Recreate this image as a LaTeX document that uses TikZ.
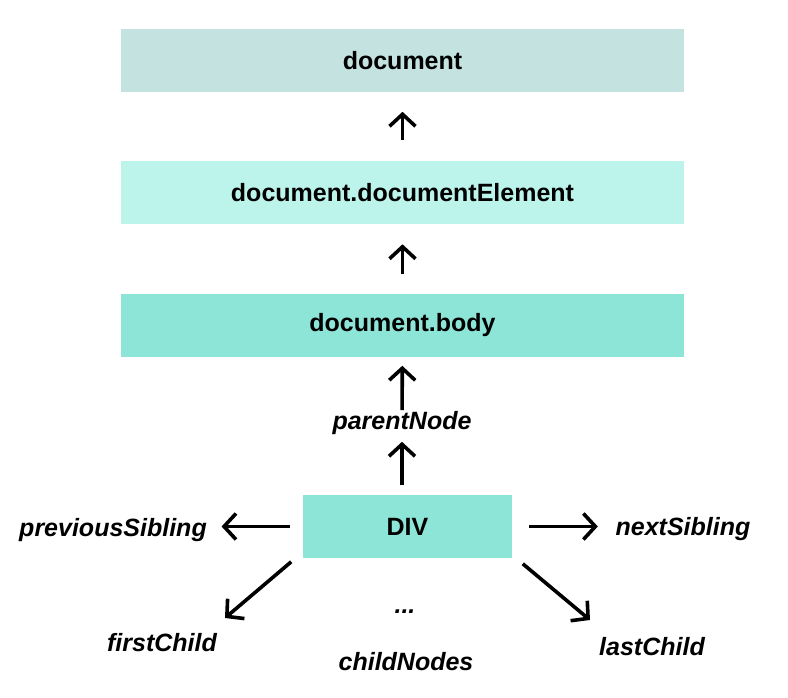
\documentclass[tikz,border=0pt]{standalone}
\usepackage{fontspec}
\setmainfont{Liberation Sans}
\usetikzlibrary{arrows.meta}
\definecolor{docgray}{HTML}{C4E3E0}
\definecolor{elemcyan}{HTML}{BCF4EC}
\definecolor{bodyteal}{HTML}{8DE5D8}
\begin{document}
\begin{tikzpicture}[x=1pt,y=-1pt,>={Straight Barb[length=12pt,width=26pt]}, line width=3.6pt,
		box/.style={minimum width=563pt, minimum height=63pt, inner sep=0pt, font=\fontsize{25}{30}\selectfont\bfseries},
		lbl/.style={inner sep=0pt, text height=0.75em, text depth=0.25em, font=\fontsize{25}{30}\selectfont\bfseries\itshape}]
				\useasboundingbox (0,0) rectangle (788,698);
				% chain of parents
				\node[box,fill=docgray] (doc) at (402.5,60.5) {document};
				\node[box,fill=elemcyan] (docElem) at (402.5,193) {document.documentElement};
				\node[box,fill=bodyteal] (body) at (402.5,325.5) {document.body};
				\node[box,fill=bodyteal,minimum width=209pt] (div) at (407.5,526.5) {DIV};
				% labels
				\node[lbl] (parent) at (402,427) {parentNode};
				\node[lbl] (prev) at (113,534) {previousSibling};
				\node[lbl] (next) at (683,533) {nextSibling};
				\node[lbl] (first) at (162,649) {firstChild};
				\node[lbl] (last) at (652,653) {lastChild};
				\node[lbl] (kids) at (406,668) {childNodes};
				\node[lbl] (dots) at (405,611) {...};
				\coordinate (firstTip) at (225,618);
				\coordinate (lastTip) at (590,620);
				% arrows
				\draw[->,shorten <=20pt,shorten >=18pt] (docElem) -- (doc);
				\draw[->,shorten <=18pt,shorten >=18pt] (body) -- (docElem);
				\draw[->,shorten <=10pt,shorten >=7pt] (parent) -- (body);
				\draw[->,shorten <=8pt,shorten >=8pt] (div.north -| parent) -- (parent);
				\draw[->,shorten <=11pt,shorten >=13pt] (div.west) -- (div.west -| prev.east);
				\draw[->,shorten <=15pt,shorten >=16pt] (div.east) -- (div.east -| next.west);
				\draw[->] ([shift={(-10,2)}]div.south west) -- (firstTip);
				\draw[->] ([shift={(9,4)}]div.south east) -- (lastTip);
			\end{tikzpicture}
\end{document}
